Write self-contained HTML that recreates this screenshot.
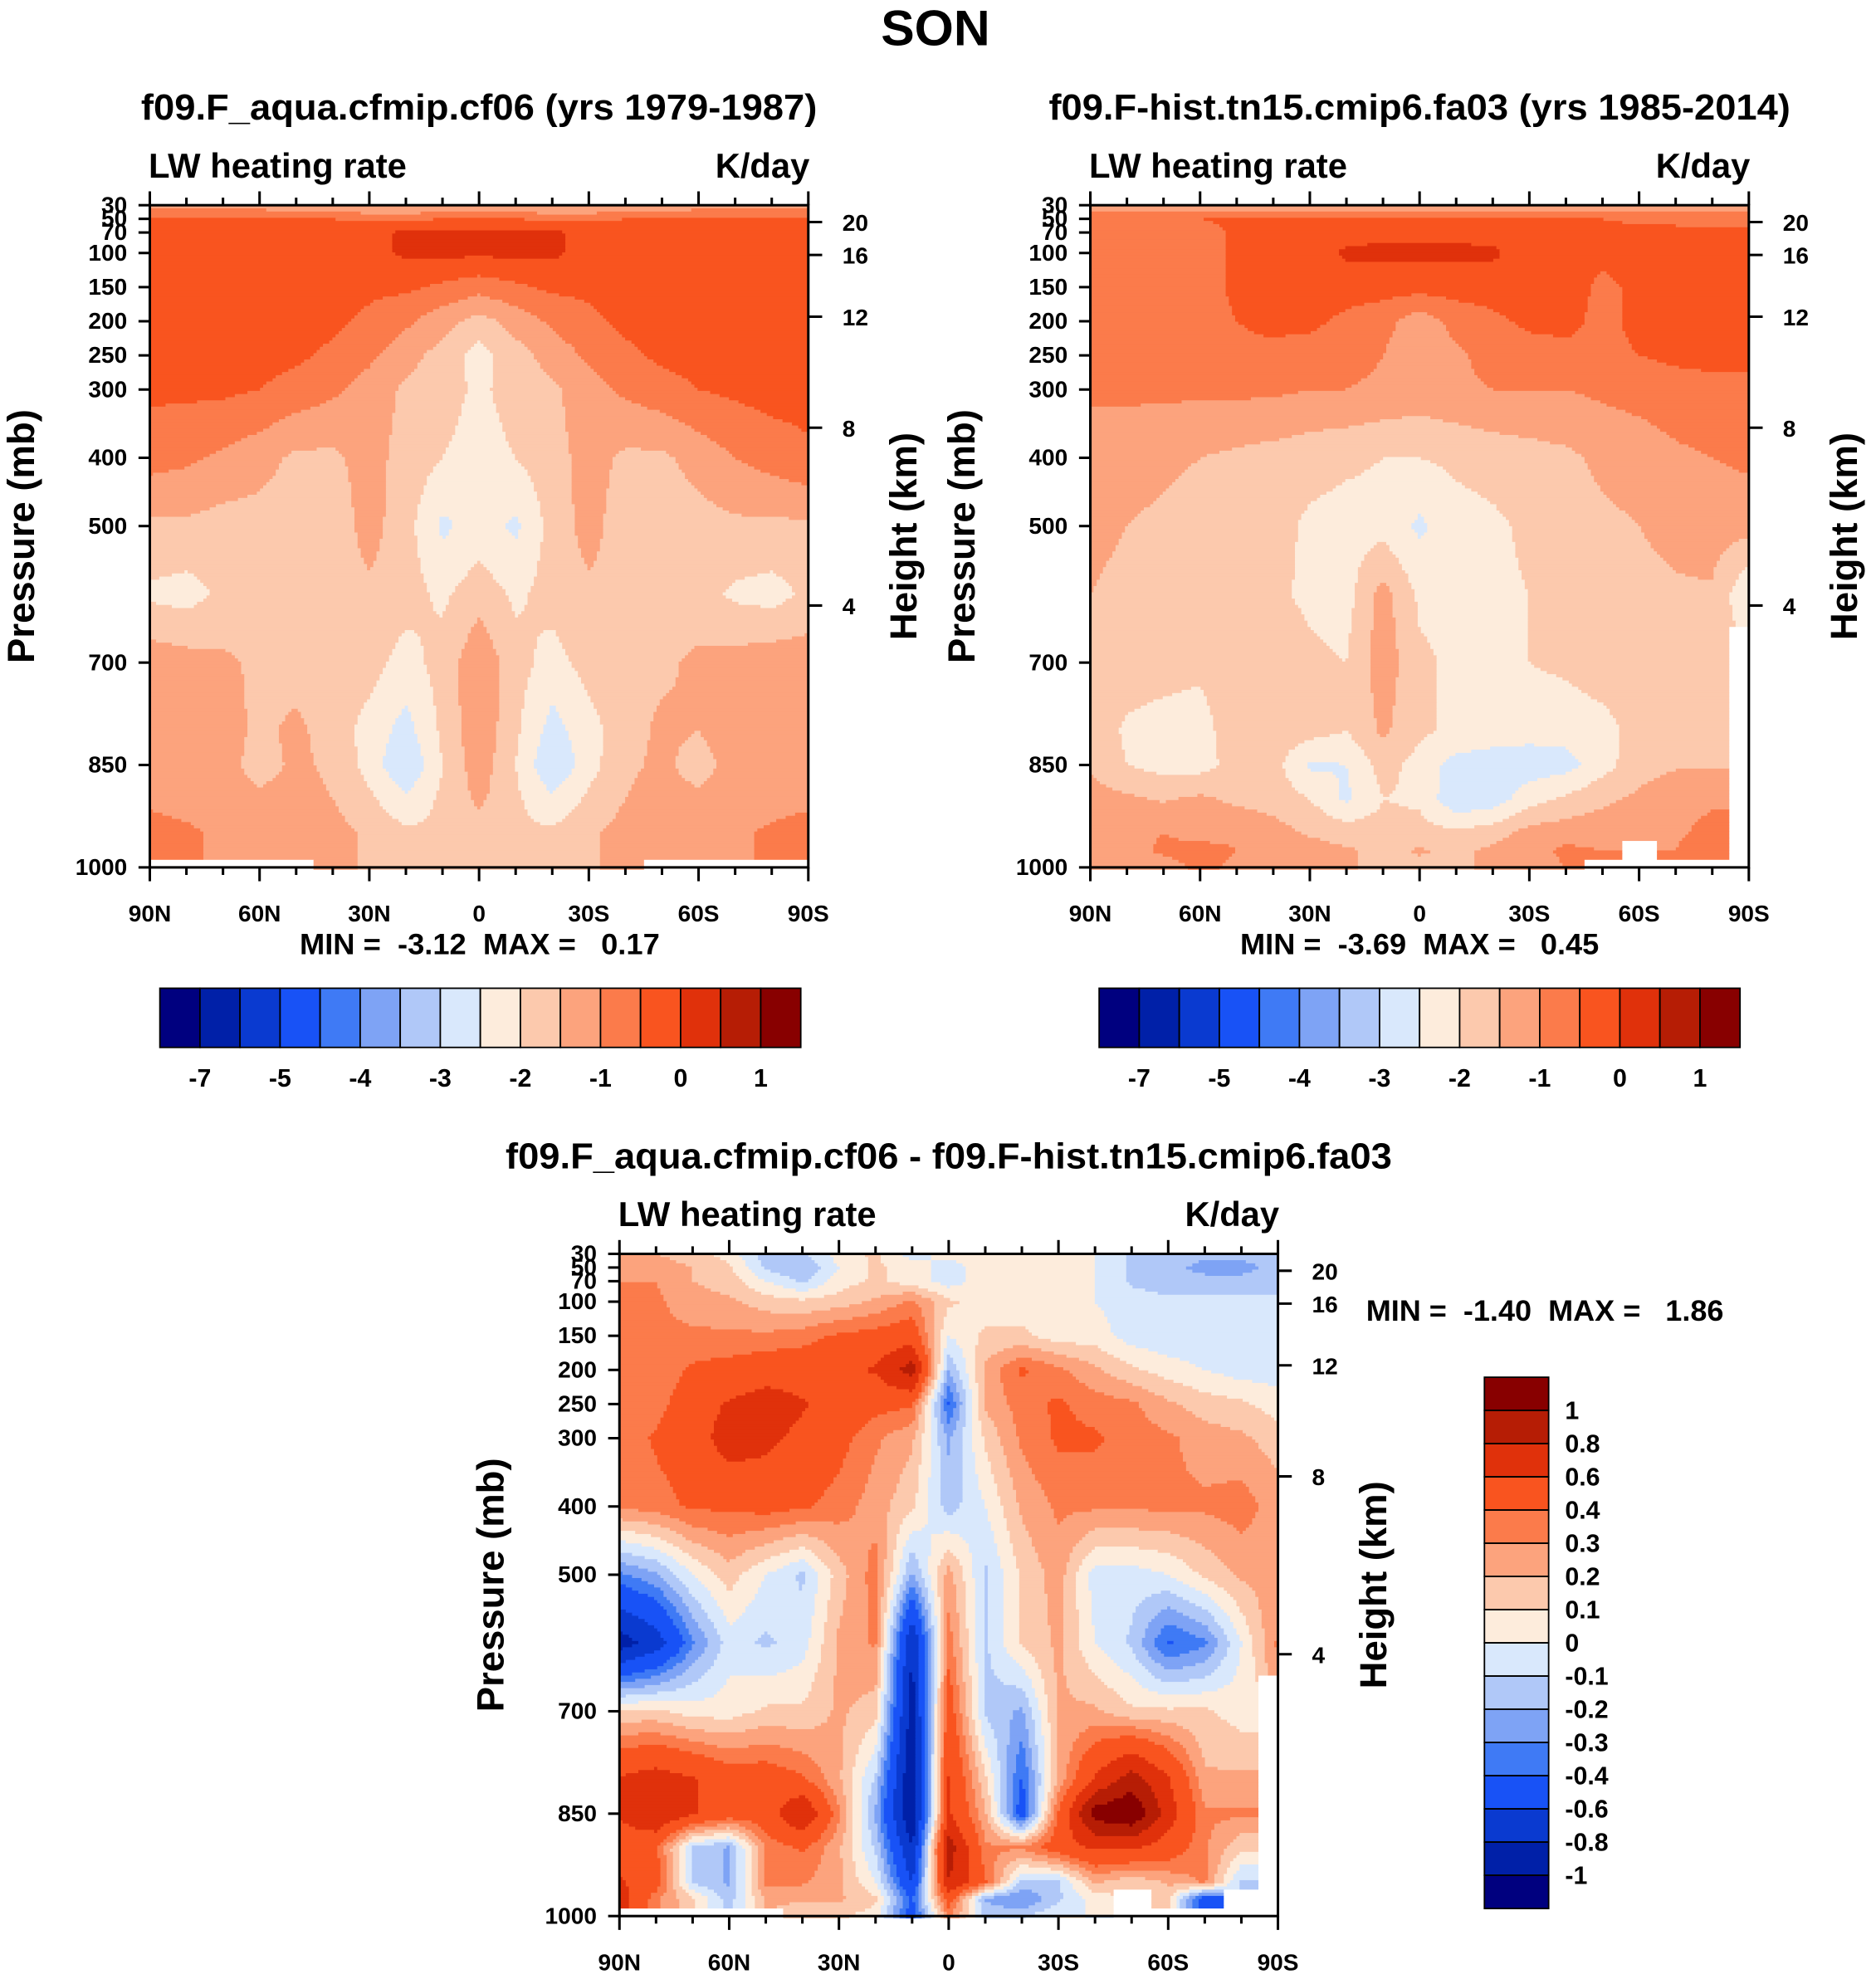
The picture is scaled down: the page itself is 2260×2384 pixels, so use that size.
<!DOCTYPE html>
<html><head><meta charset="utf-8"><style>
html,body{margin:0;padding:0;background:#fff;}
svg{display:block;font-family:"Liberation Sans",Arial,sans-serif;font-weight:bold;}
</style></head><body>
<svg id="chart" xmlns="http://www.w3.org/2000/svg" width="2260" height="2384" viewBox="0 0 1490 1572" preserveAspectRatio="none">
<text x="743" y="36" font-size="40" text-anchor="middle">SON</text>
</svg>
<script>
const pressures=[30,50,70,100,150,200,250,300,400,500,600,700,800,850,900,950,975,1000];
const lats=[90,80,70,60,50,40,30,20,10,0,-10,-20,-30,-40,-50,-60,-70,-80,-90];
const colors=["#00007f","#0020a8","#0a3ad0","#1852f6","#3f7af5","#7ea3f5","#b0c8f8","#d9e8fc","#fdecdc","#fcc9ad","#fca37d","#fb7b4b","#f9541f","#e0310b","#b61d05","#880000"];
const levelsTop=[-7,-6,-5,-4.5,-4,-3.5,-3,-2.5,-2,-1.5,-1,-0.5,0,0.5,1];
const levelsDiff=[-1,-0.8,-0.6,-0.4,-0.3,-0.2,-0.1,0,0.1,0.2,0.3,0.4,0.6,0.8,1];
const cbLabelsTop=["-7","-5","-4","-3","-2","-1","0","1"];
const cbLabelsDiff=["1","0.8","0.6","0.4","0.3","0.2","0.1","0","-0.1","-0.2","-0.3","-0.4","-0.6","-0.8","-1"];
const pTicks=[30,50,70,100,150,200,250,300,400,500,700,850,1000];
const hTicks=[20,16,12,8,4];
const latTicks=["90N","60N","30N","0","30S","60S","90S"];
const N=null;
const gridA=[
[-1.2,-1.2,-1.2,-1.3,-1.4,-1.5,-1.6,-1.6,-1.6,-1.6,-1.6,-1.6,-1.6,-1.5,-1.4,-1.3,-1.2,-1.2,-1.2],
[-0.4,-0.4,-0.4,-0.4,-0.4,-0.5,-0.6,-0.6,-0.5,-0.5,-0.5,-0.6,-0.6,-0.5,-0.4,-0.4,-0.4,-0.4,-0.4],
[-0.3,-0.3,-0.3,-0.3,-0.3,-0.3,-0.2,0.1,0.15,0.1,0.15,0.1,-0.2,-0.3,-0.3,-0.3,-0.3,-0.3,-0.3],
[-0.3,-0.3,-0.3,-0.3,-0.3,-0.3,-0.2,0.1,0.1,0.1,0.1,0.1,-0.2,-0.3,-0.3,-0.3,-0.3,-0.3,-0.3],
[-0.3,-0.3,-0.3,-0.3,-0.3,-0.3,-0.4,-0.4,-0.6,-0.8,-0.6,-0.4,-0.4,-0.3,-0.3,-0.3,-0.3,-0.3,-0.3],
[-0.3,-0.3,-0.3,-0.3,-0.3,-0.4,-0.6,-0.9,-1.3,-1.7,-1.3,-0.9,-0.6,-0.4,-0.3,-0.3,-0.3,-0.3,-0.3],
[-0.3,-0.3,-0.3,-0.3,-0.4,-0.6,-0.9,-1.3,-1.7,-2.2,-1.7,-1.3,-0.9,-0.6,-0.4,-0.3,-0.3,-0.3,-0.3],
[-0.4,-0.4,-0.4,-0.5,-0.7,-0.9,-1.2,-1.6,-1.8,-2.1,-1.8,-1.6,-1.2,-0.9,-0.7,-0.5,-0.4,-0.3,-0.3],
[-0.8,-0.9,-1.1,-1.3,-1.6,-1.6,-1.3,-1.7,-2.0,-2.2,-2.0,-1.7,-1.3,-1.6,-1.6,-1.3,-1.0,-0.8,-0.6],
[-1.6,-1.6,-1.7,-1.7,-1.8,-1.8,-1.3,-1.8,-2.6,-2.3,-2.6,-1.8,-1.3,-1.8,-1.8,-1.7,-1.6,-1.6,-1.6],
[-2.1,-2.2,-1.9,-1.7,-1.7,-1.7,-1.6,-1.8,-2.1,-1.7,-2.1,-1.8,-1.6,-1.7,-1.7,-1.8,-2.1,-2.2,-1.9],
[-1.2,-1.3,-1.4,-1.6,-1.7,-1.7,-1.8,-2.2,-1.8,-1.1,-1.8,-2.2,-1.8,-1.7,-1.6,-1.4,-1.3,-1.2,-1.2],
[-1.2,-1.2,-1.3,-1.6,-1.4,-1.7,-2.2,-2.7,-1.9,-1.1,-1.9,-2.7,-2.2,-1.7,-1.4,-1.5,-1.2,-1.2,-1.2],
[-1.2,-1.2,-1.3,-1.7,-1.4,-1.6,-2.2,-3.0,-2.0,-1.2,-2.0,-3.0,-2.2,-1.6,-1.4,-1.7,-1.3,-1.2,-1.2],
[-1.1,-1.2,-1.3,-1.4,-1.3,-1.5,-1.9,-2.4,-1.9,-1.4,-1.9,-2.4,-1.9,-1.5,-1.3,-1.4,-1.3,-1.2,-1.1],
[-0.8,-0.9,-1.1,-1.2,-1.0,-1.3,-1.6,-1.9,-1.9,-1.7,-1.9,-1.9,-1.6,-1.3,-1.0,-1.2,-1.1,-0.9,-0.8],
[-0.8,-0.9,-1.1,-1.2,-1.0,-1.3,-1.6,-1.9,-1.9,-1.7,-1.9,-1.9,-1.6,-1.3,-1.0,-1.2,-1.1,-0.9,-0.8],
[N,N,N,N,N,-1.3,-1.6,-1.9,-1.9,-1.7,-1.9,-1.9,-1.6,-1.3,N,N,N,N,N]];
const gridB=[
[-1.3,-1.3,-1.3,-1.4,-1.5,-1.5,-1.6,-1.6,-1.6,-1.6,-1.6,-1.6,-1.6,-1.5,-1.5,-1.4,-1.3,-1.3,-1.3],
[-0.7,-0.7,-0.6,-0.5,-0.4,-0.4,-0.4,-0.4,-0.4,-0.4,-0.4,-0.4,-0.4,-0.4,-0.5,-0.6,-0.7,-0.7,-0.7],
[-0.8,-0.8,-0.8,-0.7,-0.4,-0.3,-0.3,-0.2,-0.1,-0.1,-0.1,-0.2,-0.3,-0.3,-0.4,-0.3,-0.3,-0.3,-0.3],
[-0.8,-0.8,-0.8,-0.7,-0.4,-0.3,-0.3,0.1,0.1,0.1,0.1,0.1,-0.3,-0.3,-0.4,-0.3,-0.3,-0.3,-0.3],
[-0.8,-0.8,-0.8,-0.7,-0.4,-0.3,-0.3,-0.3,-0.3,-0.3,-0.3,-0.3,-0.3,-0.3,-0.6,-0.4,-0.3,-0.3,-0.3],
[-0.8,-0.8,-0.8,-0.7,-0.5,-0.4,-0.4,-0.6,-0.8,-1.3,-0.8,-0.6,-0.4,-0.4,-0.6,-0.4,-0.3,-0.3,-0.3],
[-0.8,-0.8,-0.8,-0.7,-0.6,-0.6,-0.7,-0.8,-1.0,-1.5,-1.1,-0.8,-0.7,-0.6,-0.6,-0.5,-0.4,-0.4,-0.4],
[-0.9,-0.9,-0.9,-0.9,-0.9,-0.9,-1.0,-1.0,-1.1,-1.2,-1.1,-1.0,-1.0,-1.0,-0.9,-0.8,-0.7,-0.6,-0.6],
[-1.3,-1.3,-1.4,-1.5,-1.6,-1.7,-1.8,-1.9,-2.0,-2.0,-1.9,-1.8,-1.7,-1.6,-1.4,-1.3,-1.1,-1.0,-0.9],
[-1.4,-1.5,-1.6,-1.7,-1.7,-1.8,-2.1,-2.2,-2.2,-2.6,-2.2,-2.1,-1.9,-1.7,-1.6,-1.5,-1.4,-1.3,-1.3],
[-1.5,-1.6,-1.7,-1.7,-1.7,-1.9,-2.1,-2.2,-1.3,-2.1,-2.2,-2.1,-2.0,-1.8,-1.7,-1.6,-1.55,-1.55,-2.5],
[-1.6,-1.7,-1.8,-1.9,-1.7,-1.7,-1.9,-2.0,-1.2,-1.9,-2.1,-2.1,-2.0,-1.9,-1.7,-1.6,-1.55,-1.55,N],
[-1.6,-2.1,-2.2,-2.2,-1.7,-1.7,-1.8,-2.0,-1.4,-1.9,-2.1,-2.2,-2.3,-2.3,-2.2,-1.8,-1.6,-1.55,N],
[-1.55,-2.0,-2.2,-2.2,-1.8,-1.8,-2.6,-2.5,-1.8,-2.2,-2.7,-2.8,-2.8,-2.7,-2.2,-1.7,-1.55,-1.55,N],
[-1.3,-1.4,-1.55,-1.4,-1.6,-1.7,-2.0,-2.6,-2.0,-2.1,-2.9,-2.8,-2.2,-1.9,-1.6,-1.4,-1.2,-1.1,N],
[-1.4,-1.2,-1.0,-1.2,-1.1,-1.3,-1.55,-1.7,-1.8,-1.8,-1.9,-1.7,-1.3,-1.2,-1.2,-1.2,-1.1,-0.8,N],
[-1.4,-1.2,-0.9,-0.8,-1.0,-1.1,-1.3,-1.45,-1.6,-1.45,-1.6,-1.4,-1.2,-0.9,-1.0,N,-1.0,-0.6,N],
[-1.45,-1.4,-1.2,-0.9,-1.1,-1.3,-1.4,-1.45,-1.6,-1.6,-1.6,-1.4,-1.2,-1.0,N,N,N,N,N]];
const gridC=[
[0.25,0.2,0.15,0.05,-0.15,-0.12,0.05,0.12,-0.05,0.05,0.02,0.02,0.02,0.0,-0.12,-0.15,-0.15,-0.15,-0.15],
[0.3,0.25,0.2,0.12,-0.12,-0.2,0.0,0.12,0.05,-0.05,0.05,0.05,0.05,0.0,-0.12,-0.15,-0.25,-0.25,-0.15],
[0.3,0.3,0.2,0.15,0.0,-0.12,0.05,0.12,0.05,-0.05,0.05,0.05,0.05,0.0,-0.12,-0.15,-0.15,-0.15,-0.15],
[0.32,0.32,0.25,0.22,0.15,0.12,0.15,0.22,0.32,0.12,0.05,0.05,0.05,0.0,-0.05,-0.08,-0.08,-0.08,-0.08],
[0.32,0.32,0.32,0.32,0.32,0.35,0.42,0.45,0.5,0.0,0.12,0.12,0.05,0.05,-0.05,-0.08,-0.08,-0.08,-0.05],
[0.32,0.32,0.42,0.45,0.5,0.5,0.55,0.62,0.9,-0.2,0.22,0.42,0.32,0.22,0.12,0.05,0.0,-0.05,-0.05],
[0.32,0.35,0.5,0.62,0.7,0.62,0.5,0.45,0.42,-0.42,0.22,0.35,0.42,0.35,0.32,0.22,0.15,0.12,0.05],
[0.32,0.42,0.5,0.7,0.65,0.55,0.45,0.32,0.22,-0.22,0.12,0.32,0.42,0.42,0.35,0.32,0.25,0.22,0.15],
[0.32,0.35,0.42,0.42,0.45,0.42,0.35,0.25,0.12,-0.15,0.0,0.22,0.32,0.32,0.32,0.32,0.32,0.35,0.25],
[-0.32,-0.22,0.0,0.15,0.0,-0.12,0.15,0.35,-0.22,0.25,-0.12,0.12,0.25,-0.05,-0.05,0.0,0.12,0.22,0.25],
[-0.9,-0.7,-0.32,-0.05,-0.12,-0.05,0.22,0.32,-0.8,0.35,-0.12,0.12,0.22,0.0,-0.12,-0.42,-0.32,0.0,0.32],
[0.12,0.12,0.05,0.05,0.12,0.12,0.22,0.15,-0.9,0.5,-0.12,-0.22,0.22,0.22,0.12,0.12,0.12,0.05,N],
[0.62,0.7,0.62,0.5,0.5,0.42,0.22,-0.12,-1.0,0.62,0.12,-0.42,0.22,0.62,0.9,0.62,0.22,0.22,N],
[0.62,0.8,0.62,0.5,0.5,0.8,0.32,-0.22,-1.0,0.62,0.22,-0.5,0.42,1.1,1.2,0.7,0.32,0.32,N],
[0.5,0.42,-0.12,-0.22,0.32,0.42,0.22,-0.12,-0.8,0.9,0.32,0.32,0.5,0.62,0.62,0.5,0.32,0.12,N],
[0.62,0.5,-0.12,-0.22,0.32,0.32,0.22,0.0,-0.62,0.8,0.42,-0.12,-0.12,0.22,0.12,0.22,0.32,-0.12,N],
[0.7,0.32,0.12,-0.15,0.22,0.22,0.22,0.12,-0.42,0.5,-0.22,-0.32,-0.12,0.05,N,0.12,-0.5,N,N],
[N,N,N,N,N,0.12,0.12,0.05,-0.5,0.32,-0.12,-0.12,0.0,0.0,N,N,N,N,N]];

const NS="http://www.w3.org/2000/svg";
const svg=document.getElementById('chart');
const W=523,H=526;
function mk(tag,parent,attrs){const e=document.createElementNS(NS,tag);for(const k in attrs)e.setAttribute(k,attrs[k]);parent.appendChild(e);return e;}
function yOfP(p,y0){return y0+(p-30)/970*H;}
function xOfLat(l,x0){return x0+(90-l)/180*W;}
function hToP(h){if(h<=11)return 1013.25*Math.pow(1-2.25577e-5*h*1000,5.25588);return 226.3*Math.exp(-(h-11)/6.3416);}
function colorIdx(v,lev){v=Math.round(v*1e6)/1e6;let i=0;while(i<lev.length&&v>=lev[i])i++;return i;}
function sample(grid,lat,p){
  let j=0;while(j<lats.length-2&&lat<lats[j+1])j++;
  let i=0;while(i<pressures.length-2&&p>pressures[i+1])i++;
  const tx=(lats[j]-lat)/(lats[j]-lats[j+1]);const ty=(p-pressures[i])/(pressures[i+1]-pressures[i]);
  const ni=ty<0.5?i:i+1,nj=tx<0.5?j:j+1;
  if(grid[ni][nj]===null)return null;
  const c=[[grid[i][j],(1-tx)*(1-ty)],[grid[i][j+1],tx*(1-ty)],[grid[i+1][j],(1-tx)*ty],[grid[i+1][j+1],tx*ty]];
  let s=0,w=0;for(const [v,wt] of c){if(v!==null){s+=v*wt;w+=wt;}}
  return w>0?s/w:null;
}
function txt(parent,attrs,str,name){const t=mk('text',parent,attrs);t.textContent=str;
  
  
  return t;}
function panel(name,grid,lev,x0,y0,title,titleLen,minmax,mmx,mmy,mmLen){
  const g=mk('g',svg,{});
  
  
  const cg=mk('g',g,{});
  
  
  const step=2.5;
  for(let yy=0;yy<H;yy+=step){
    const p=30+(yy+step/2)/H*970;
    let runStart=0,runCol=null;
    const nx=Math.ceil(W/step);
    for(let k=0;k<=nx;k++){
      let col='end';
      if(k<nx){const lat=90-((k+0.5)*step)/W*180;const v=sample(grid,lat,p);col=v===null?'#ffffff':colors[colorIdx(v,lev)];}
      if(col!==runCol){
        if(runCol!==null){const r=mk('rect',cg,{x:x0+runStart*step,y:y0+yy,width:Math.min((k-runStart)*step,W-runStart*step)+0.4,height:step+0.4,fill:runCol});
          
          }
        runCol=col;runStart=k;
      }
    }
  }
  const frame=mk('rect',g,{x:x0,y:y0,width:W,height:H,fill:'none',stroke:'#000','stroke-width':2});
  
  
  pTicks.forEach(p=>{const y=yOfP(p,y0);mk('line',g,{x1:x0-9,x2:x0,y1:y,y2:y,stroke:'#000','stroke-width':2});
    txt(g,{x:x0-18,y:y+6,'font-size':18.5,'text-anchor':'end'},p,'pressure-tick-label');});
  hTicks.forEach(h=>{const y=yOfP(hToP(h),y0);mk('line',g,{x1:x0+W,x2:x0+W+11,y1:y,y2:y,stroke:'#000','stroke-width':2});
    txt(g,{x:x0+W+27,y:y+7,'font-size':18.5},h,'height-tick-label');});
  for(let l=90;l>=-90;l-=10){const x=xOfLat(l,x0);const major=l%30===0;
    mk('line',g,{x1:x,x2:x,y1:y0,y2:y0-(major?11:6),stroke:'#000','stroke-width':2});
    mk('line',g,{x1:x,x2:x,y1:y0+H,y2:y0+H+(major?11:6),stroke:'#000','stroke-width':2});}
  latTicks.forEach((s,k)=>{txt(g,{x:x0+k*W/6,y:y0+H+43,'font-size':18.5,'text-anchor':'middle'},s,'latitude-tick-label');});
  txt(g,{x:0,y:0,'font-size':30,'text-anchor':'middle',transform:`translate(${x0-92},${y0+263}) rotate(-90)`},'Pressure (mb)','pressure-axis-title');
  txt(g,{x:0,y:0,'font-size':30,'text-anchor':'middle',transform:`translate(${x0+W+86},${y0+263}) rotate(-90)`},'Height (km)','height-axis-title');
  txt(g,{x:x0+W/2-titleLen/2,y:y0-68,'font-size':29,textLength:titleLen,lengthAdjust:'spacingAndGlyphs'},title,name+'-title');
  txt(g,{x:x0-1,y:y0-22,'font-size':27.5,textLength:205,lengthAdjust:'spacingAndGlyphs'},'LW heating rate','variable-label');
  txt(g,{x:x0+W+1,y:y0-22,'font-size':27.5,'text-anchor':'end'},'K/day','units-label');
  const mm=txt(g,{x:mmx,y:mmy,'font-size':23,textLength:mmLen,lengthAdjust:'spacingAndGlyphs',style:'white-space:pre'},minmax,'min-max-label');
}
function hbar(name,x0,y0){
  const g=mk('g',svg,{});
  
  
  const bw=509/16;
  colors.forEach((c,k)=>{const r=mk('rect',g,{x:x0+k*bw,y:y0,width:bw,height:47,fill:c,stroke:'#000','stroke-width':1.2});
    
    });
  cbLabelsTop.forEach((s,k)=>{txt(g,{x:x0+(2*k+1)*bw,y:y0+78,'font-size':20,'text-anchor':'middle'},s,'colorbar-label');});
}
panel('panel-cf06',gridA,levelsTop,119,163,'f09.F_aqua.cfmip.cf06 (yrs 1979-1987)',537,'MIN =  -3.12  MAX =   0.17',238,758,286);
panel('panel-cmip6',gridB,levelsTop,866,163,'f09.F-hist.tn15.cmip6.fa03 (yrs 1985-2014)',589,'MIN =  -3.69  MAX =   0.45',985,758,285);
panel('panel-diff',gridC,levelsDiff,492,996,'f09.F_aqua.cfmip.cf06 - f09.F-hist.tn15.cmip6.fa03',704,'MIN =  -1.40  MAX =   1.86',1085,1049,284);
hbar('colorbar-cf06',127,785);
hbar('colorbar-cmip6',873,785);
(function(){
  const g=mk('g',svg,{});
  
  
  const x0=1179,y0=1094,bh=422/16;
  colors.slice().reverse().forEach((c,k)=>{const r=mk('rect',g,{x:x0,y:y0+k*bh,width:51,height:bh,fill:c,stroke:'#000','stroke-width':1.2});
    
    });
  cbLabelsDiff.forEach((s,k)=>{txt(g,{x:1243,y:y0+(k+1)*bh+7,'font-size':20},s,'colorbar-label');});
})();
</script>
</body></html>
